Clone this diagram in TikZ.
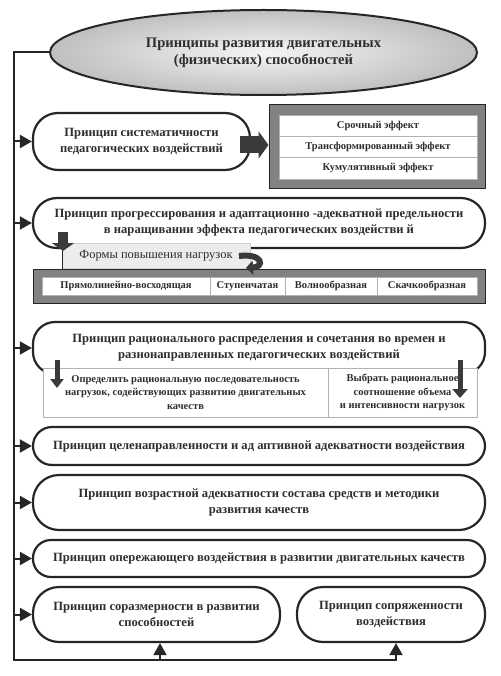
\documentclass[tikz,border=0pt]{standalone}
\usepackage{fontspec}
\setmainfont{Liberation Serif}
\usetikzlibrary{shapes.geometric,arrows.meta}
\definecolor{lc}{HTML}{262626}
\definecolor{tc}{HTML}{2E2E2E}
\definecolor{frm}{HTML}{828282}
\definecolor{arrc}{HTML}{3A3A3A}
\begin{document}
\begin{tikzpicture}[x=1pt,y=-1pt,
 pill/.style={draw=lc,line width=2.2pt,fill=white,rounded corners=#1,inner sep=0pt,align=center,text=tc,font=\bfseries\fontsize{12.6}{16}\selectfont},
 cell/.style={draw=gray!60,line width=0.6pt,fill=white,inner sep=0pt,align=center,text=tc,font=\bfseries\fontsize{10.5}{13.5}\selectfont},
 framebox/.style={draw=lc,line width=1pt,fill=frm,inner sep=0pt},
 arr/.style={draw=lc,line width=2pt,-{Triangle[length=12pt,width=13pt]}},
 ln/.style={draw=lc,line width=2pt},
 blockarrow/.style={draw=arrc,line width=#1}
]
\useasboundingbox (0,0) rectangle (500,676);

% title
\node[ellipse,draw=lc,line width=2pt,inner color=gray!8,outer color=gray!50,
  minimum width=427pt,minimum height=85pt,align=center,text=tc,
  font=\bfseries\fontsize{14.6}{17}\selectfont] (title) at (263.5,52.5)
  {Принципы развития двигательных\\(физических) способностей};

% principle 1 + effects
\node[pill=25pt,minimum width=217pt,minimum height=57pt] (p1) at (141.5,141.5)
  {Принцип систематичности\\педагогических воздействий};
\node[framebox,minimum width=216pt,minimum height=84pt] (eff) at (377,147) {};
\node[cell,minimum width=198pt,minimum height=21.3pt] (e1) at (378,125.6) {Срочный эффект};
\node[cell,minimum width=198pt,minimum height=21.3pt] (e2) at (378,146.9) {Трансформированный эффект};
\node[cell,minimum width=198pt,minimum height=21.3pt] (e3) at (378,168.2) {Кумулятивный эффект};
\coordinate (a1s) at (240,145);
\draw[blockarrow=17pt,-{Triangle[length=10pt,width=27pt]}] (a1s) -- (a1s -| eff.west);

% principle 2 + forms
\node[pill=24pt,minimum width=452pt,minimum height=50pt] (p2) at (259,223)
  {Принцип прогрессирования и адаптационно -адекватной предельности\\в наращивании эффекта педагогических воздействи й};
\node[framebox,minimum width=452pt,minimum height=34pt] (frm) at (259,286) {};
\node[cell,minimum width=168pt,minimum height=18pt] (f1) at (126,286) {Прямолинейно-восходящая};
\node[cell,minimum width=75pt,minimum height=18pt] (f2) at (247.5,286) {Ступенчатая};
\node[cell,minimum width=92pt,minimum height=18pt] (f3) at (331,286) {Волнообразная};
\node[cell,minimum width=100pt,minimum height=18pt] (f4) at (427,286) {Скачкообразная};
\node[draw=gray!35,line width=0.5pt,fill=gray!15,minimum width=188pt,minimum height=25pt,inner sep=0pt,
  text=tc,font=\fontsize{12.5}{15}\selectfont] (lab) at (156,255.5) {Формы повышения нагрузок};
\coordinate (a2s) at (63,232);
\coordinate (a2e) at (63,251);
\coordinate (ll) at (62,251);
\draw[blockarrow=10pt,-{Triangle[length=8pt,width=22pt]}] (a2s) -- (a2e);
\draw[lc,line width=0.8pt] (ll) -- (ll |- frm.north);
\coordinate (c1) at (239,256);
\coordinate (c2) at (246,268);
\draw[arrc,line width=6pt,-{Triangle[length=7pt,width=14pt]}] (c1) .. controls (263,253) and (265,267) .. (c2);

% principle 3 + sub-table
\node[pill=22pt,minimum width=452pt,minimum height=52pt] (p3) at (259,348) {};
\node[inner sep=0pt,align=center,text=tc,font=\bfseries\fontsize{12.6}{16}\selectfont] (p3t) at (259,347.5)
  {Принцип рационального распределения и сочетания во времен и\\разнонаправленных педагогических воздействий};
\node[cell,minimum width=285pt,minimum height=49pt] (s1) at (185.5,392.5)
  {Определить рациональную последовательность\\нагрузок, содействующих развитию двигательных\\качеств};
\node[cell,minimum width=149pt,minimum height=49pt] (s2) at (402.5,392.5)
  {Выбрать рациональное\\соотношение объема\\и интенсивности нагрузок};
\coordinate (d1s) at (57,360);
\coordinate (d1e) at (57,388);
\coordinate (d2s) at (460,360);
\coordinate (d2e) at (460,398);
\draw[blockarrow=5pt,-{Triangle[length=9pt,width=13pt]}] (d1s) -- (d1e);
\draw[blockarrow=5pt,-{Triangle[length=9pt,width=15pt]}] (d2s) -- (d2e);

% other principles
\node[pill=19pt,minimum width=452pt,minimum height=38pt] (p4) at (259,446)
  {Принцип целенаправленности и ад аптивной адекватности воздействия};
\node[pill=26pt,minimum width=452pt,minimum height=55pt] (p5) at (259,502.5)
  {Принцип возрастной адекватности состава средств и методики\\развития качеств};
\node[pill=18pt,minimum width=452pt,minimum height=37pt] (p6) at (259,558.5)
  {Принцип опережающего воздействия в развитии двигательных качеств};
\node[pill=26pt,minimum width=247pt,minimum height=55pt] (p7a) at (156.5,614.5)
  {Принцип соразмерности в развитии\\способностей};
\node[pill=26pt,minimum width=188pt,minimum height=55pt] (p7b) at (391,614.5)
  {Принцип сопряженности\\воздействия};

% spine
\coordinate (Lt) at (14,52.5);
\coordinate (Lb) at (14,660);
\coordinate (Rb) at (396,660);
\coordinate (Mb) at (160,660);
\draw[ln,line cap=rect] (title.west) -- (Lt) -- (Lb) -- (Rb);
\foreach \n in {p1,p2,p3,p4,p5,p6,p7a}
  \draw[arr] (Lt |- \n.west) -- (\n.west);
\draw[arr] (Mb) -- (Mb |- p7a.south);
\draw[arr] (Rb) -- (Rb |- p7b.south);
\end{tikzpicture}
\end{document}
